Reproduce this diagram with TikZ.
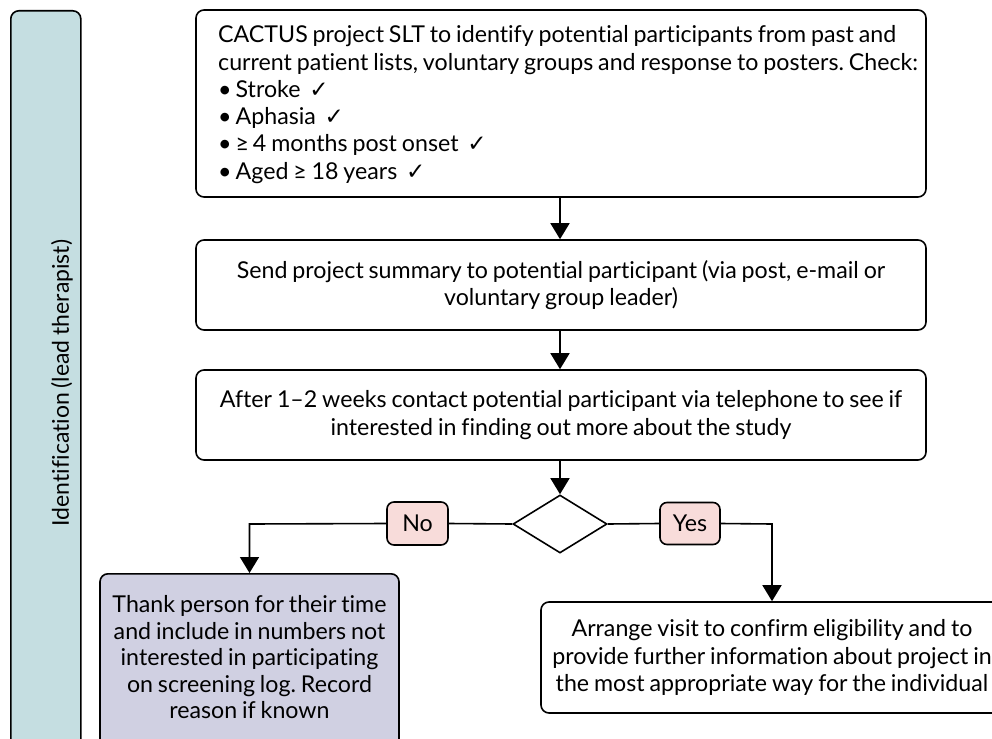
\documentclass[tikz,border=0pt]{standalone}
\usepackage{fontspec}
\setmainfont{Lato}[Ligatures=NoCommon, WordSpace=0.82]
\newfontfamily\symfont{DejaVu Sans}
\usetikzlibrary{shapes.geometric,arrows.meta}
\definecolor{lanefill}{HTML}{C5DEE1}
\definecolor{tagfill}{HTML}{F8DCDA}
\definecolor{exitfill}{HTML}{D0D0E2}
\newcommand{\tick}{\,{\symfont\fontsize{23}{20}\selectfont ✓}}
\newcommand{\blt}{\textbullet\hspace{4pt}}
\frenchspacing
\tikzset{
  flowline/.style={line width=1.6pt, draw=black},
  boxfont/.style={font=\fontsize{23.2}{27.3}\selectfont},
  stepbox/.style={flowline, rectangle, rounded corners=8pt, fill=white,
    boxfont, inner sep=0pt},
  plaintext/.style={boxfont, inner sep=0pt},
  tagbox/.style={flowline, rectangle, rounded corners=7pt, fill=tagfill,
    font=\fontsize{23.2}{24}\selectfont, inner sep=0pt},
  arrow/.style={flowline, -{Triangle[width=19pt,length=16pt]}},
}
\begin{document}
\begin{tikzpicture}[x=1pt, y=-1pt]
  \useasboundingbox (0,0) rectangle (992,738);
  \clip (0,0) rectangle (992,738);

  % swimlane bar
  \node[flowline, rectangle, rounded corners=8pt, fill=lanefill,
        minimum width=70pt, minimum height=770pt, anchor=north west]
        (lane) at (10,10) {};
  \node[rotate=90, font=\fontsize{23}{24}\selectfont] (lanelabel) at (62,383)
        {Identification (lead therapist)};

  % process steps
  \node[stepbox, minimum width=730pt, minimum height=187pt] (identify) at (561,103.5) {};
  \node[plaintext, align=left, anchor=north west] (identifytext) at (218,25.5)
  {CACTUS project SLT to identify potential participants from past and\\
   current patient lists, voluntary groups and response to posters. Check:\\
   \blt Stroke \tick\\
   \blt Aphasia \tick\\
   \blt ≥\,4 months post onset \tick\\
   \blt Aged ≥ 18 years \tick};

  \node[stepbox, minimum width=730pt, minimum height=90pt, align=center]
        (summary) at (561,285)
  {Send project summary to potential participant (via post, e-mail or\\
   voluntary group leader)};

  \node[stepbox, minimum width=730pt, minimum height=90pt, align=center]
        (contact) at (561,415)
  {After 1–2 weeks contact potential participant via telephone to see if\\
   interested in finding out more about the study};

  % decision
  \node[flowline, diamond, fill=white, minimum width=94pt, minimum height=58pt,
        inner sep=0pt] (decide) at (560,524) {};
  \node[tagbox, minimum width=61pt, minimum height=43pt] (no) at (417.5,523.5) {No};
  \node[tagbox, minimum width=60pt, minimum height=42pt] (yes) at (690,523.5) {Yes};

  % outcomes
  \node[stepbox, fill=exitfill, minimum width=299pt, minimum height=180pt,
        anchor=north] (thank) at (249.5,573) {};
  \node[plaintext, align=center, anchor=north, font=\fontsize{23.2}{26.5}\selectfont]
        (thanktext) at (249.5,595.5)
  {Thank person for their time\\
   and include in numbers not\\
   interested in participating\\
   on screening log. Record\\
   reason if known};

  \node[stepbox, minimum width=462pt, minimum height=111pt, align=center]
        (visit) at (772,657.5)
  {Arrange visit to confirm eligibility and to\\
   provide further information about project in\\
   the most appropriate way for the individual};

  % connectors
  \coordinate (nobend) at (249.5,524);
  \coordinate (yesbend) at (772,524);
  \draw[arrow] (identify.south -| decide.north) -- (summary.north -| decide.north);
  \draw[arrow] (summary.south -| decide.north) -- (contact.north -| decide.north);
  \draw[arrow] (contact.south -| decide.north) -- (decide.north);
  \draw[flowline] (decide.west) -- (no.east);
  \draw[arrow] (no.west) -- (nobend) -- (thank.north);
  \draw[flowline] (decide.east) -- (yes.west);
  \draw[arrow] (yes.east) -- (yesbend) -- (visit.north);
\end{tikzpicture}
\end{document}
